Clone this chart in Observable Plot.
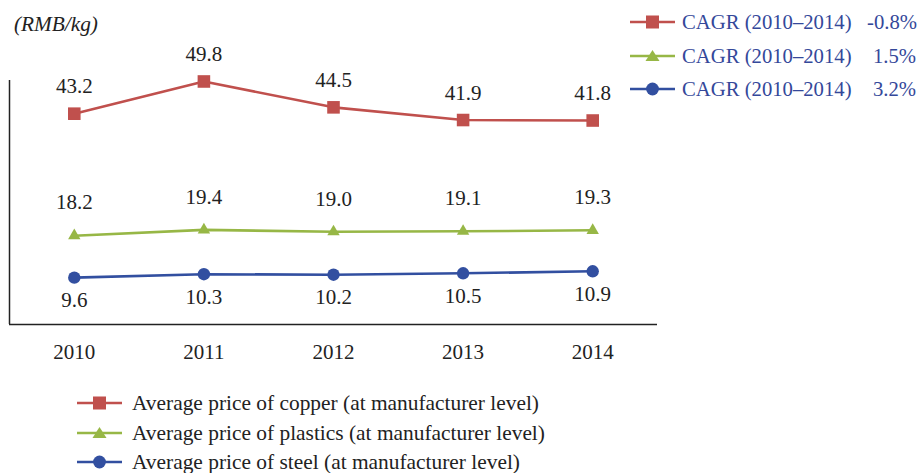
<!DOCTYPE html>
<html><head><meta charset="utf-8">
<script src="https://cdn.jsdelivr.net/npm/d3@7"></script>
<script src="https://cdn.jsdelivr.net/npm/@observablehq/plot@0.6"></script>
</head>
<body style="margin:0;background:#fff;font-family:'Liberation Serif', serif"><div id="wrap" style="position:relative;width:924px;height:473px;overflow:hidden;"></div>
<script>
const years = [2010, 2011, 2012, 2013, 2014];
const copper = [43.2, 49.8, 44.5, 41.9, 41.8];
const plastics = [18.2, 19.4, 19.0, 19.1, 19.3];
const steel = [9.6, 10.3, 10.2, 10.5, 10.9];
const seriesNames = ["Average price of copper (at manufacturer level)", "Average price of plastics (at manufacturer level)", "Average price of steel (at manufacturer level)"];
const cagr = ["-0.8%", "1.5%", "3.2%"];
const cagrLabel = "CAGR (2010\u20132014)";
const unitLabel = "(RMB/kg)";

const FONT = "'Liberation Serif', serif";
const colors = ["#C0504D", "#97B746", "#324FA0"];
const symbols = ["square", "triangle", "circle"];
const radii = [7.1, 4.6, 6.2];
const dys = [-27, -33, 23];

const all = [copper, plastics, steel];
const rows = all.map((vals, s) => years.map((y, i) => ({year: y, value: vals[i], s})));

const marks = [
  Plot.ruleY([0], {stroke: "#222", strokeWidth: 1.5}),
  Plot.ruleX([2009.5], {y1: 0, y2: 50, stroke: "#222", strokeWidth: 1.5}),
  Plot.axisX({ticks: years, tickSize: 0, tickPadding: 20, tickFormat: d => String(d), fontSize: 21, color: "#222", label: null}),
];
rows.forEach((data, s) => {
  marks.push(Plot.line(data, {x: "year", y: "value", stroke: colors[s], strokeWidth: 2.6}));
  marks.push(Plot.dot(data, {x: "year", y: "value", symbol: symbols[s], r: radii[s], fill: colors[s], stroke: "none"}));
  marks.push(Plot.text(data, {x: "year", y: "value", text: d => d.value.toFixed(1), dy: dys[s], fill: "#222", fontSize: 21}));
});

const plot = Plot.plot({
  width: 924, height: 473,
  marginLeft: 9, marginRight: 267, marginTop: 80, marginBottom: 149,
  x: {type: "linear", domain: [2009.5, 2014.5], axis: null},
  y: {domain: [0, 50], axis: null},
  style: {fontSize: "21px", background: "#fff"},
  marks
});
d3.select(plot).style("font-family", FONT);
d3.select(plot).selectAll("text").style("font-family", FONT);
const wrap = document.getElementById("wrap");
wrap.appendChild(plot);

function swatch(s, w) {
  const c = colors[s];
  let m = "";
  const cx = w / 2, cy = 8;
  if (symbols[s] === "square") m = `<rect x="${cx-6.5}" y="${cy-6.5}" width="13" height="13" fill="${c}"/>`;
  else if (symbols[s] === "circle") m = `<circle cx="${cx}" cy="${cy}" r="6.4" fill="${c}"/>`;
  else m = `<path d="M${cx},${cy-6} L${cx+7},${cy+5} L${cx-7},${cy+5} Z" fill="${c}"/>`;
  return `<svg width="${w}" height="16" style="display:block;margin-right:10px"><line x1="0" x2="${w}" y1="${cy}" y2="${cy}" stroke="${c}" stroke-width="2.6"/>${m}</svg>`;
}
const base = "position:absolute;display:flex;align-items:center;white-space:nowrap;font-family:'Liberation Serif', serif;";

const u = document.createElement("div");
u.style.cssText = base + "left:14px;top:12px;font-size:21.3px;font-style:italic;color:#222;";
u.textContent = unitLabel;
wrap.appendChild(u);

const topY = [22, 56, 89];
cagr.forEach((v, s) => {
  const d = document.createElement("div");
  d.style.cssText = base + `left:630px;top:${topY[s]-12}px;height:24px;font-size:20.7px;color:#34489A;`;
  d.innerHTML = swatch(s, 45) + `<span style="margin-left:-3px">${cagrLabel}</span>`;
  wrap.appendChild(d);
  const v2 = document.createElement("div");
  v2.style.cssText = base + `left:${s===0?867:873}px;top:${topY[s]-12}px;height:24px;font-size:20.7px;color:#34489A;`;
  v2.textContent = v;
  wrap.appendChild(v2);
});

const botY = [403, 433, 462];
seriesNames.forEach((n, s) => {
  const d = document.createElement("div");
  d.style.cssText = base + `left:77px;top:${botY[s]-12}px;height:24px;font-size:21.4px;color:#222;`;
  d.innerHTML = swatch(s, 45) + `<span>${n}</span>`;
  wrap.appendChild(d);
});
</script></body></html>
